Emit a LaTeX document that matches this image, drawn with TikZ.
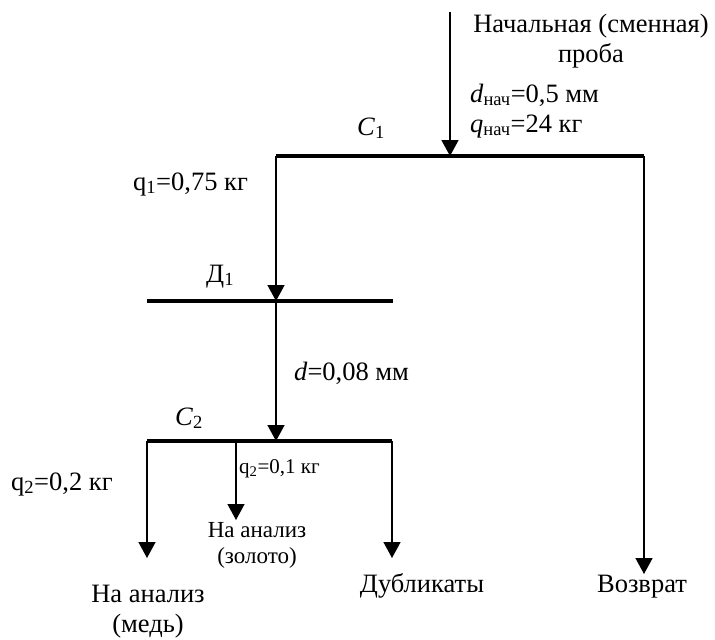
\documentclass[tikz,border=0pt]{standalone}
\usepackage{fontspec}
\setmainfont{Liberation Serif}
\usetikzlibrary{arrows.meta}
\tikzset{
  bar/.style={line width=3.5pt},
  flow/.style={line width=1.5pt,-{Triangle[width=17pt,length=16pt]}},
  big/.style={inner sep=0pt,font=\fontsize{26.5}{30}\selectfont},
  small/.style={inner sep=0pt,font=\fontsize{23}{26}\selectfont},
  tiny/.style={inner sep=0pt,font=\fontsize{21}{24}\selectfont},
}
\begin{document}
\begin{tikzpicture}[x=1pt,y=-1pt]
\useasboundingbox (0,0) rectangle (715,640);
% coordinates
\coordinate (in) at (450,12);
\coordinate (c1L) at (276,156);
\coordinate (c1M) at (450,156);
\coordinate (c1R) at (644,156);
\coordinate (d1L) at (147,301);
\coordinate (d1M) at (276,301);
\coordinate (d1R) at (393,301);
\coordinate (c2L) at (147,441);
\coordinate (c2A) at (236,441);
\coordinate (c2M) at (276,441);
\coordinate (c2R) at (392,441);
\coordinate (e1) at (147,558);
\coordinate (e2) at (236,520);
\coordinate (e3) at (392,558);
\coordinate (e4) at (644,574);
% bars
\draw[bar] (c1L) -- (c1R);
\draw[bar] (d1L) -- (d1R);
\draw[bar] (c2L) -- (c2R);
% flows
\draw[flow] (in) -- (c1M);
\draw[flow] (c1L) -- (d1M);
\draw[flow] (d1M) -- (c2M);
\draw[flow] (c2L) -- (e1);
\draw[flow] (c2A) -- (e2);
\draw[flow] (c2R) -- (e3);
\draw[flow] (c1R) -- (e4);
% labels
\node[big,anchor=base] (init) at (591,32) {\begin{tabular}[t]{@{}c@{}}Начальная (сменная)\\проба\end{tabular}};
\node[big,anchor=base west] (dn) at (470,102) {\textit{d}\textsubscript{нач}=0,5 мм};
\node[big,anchor=base west] (qn) at (470,132) {\textit{q}\textsubscript{нач}=24 кг};
\node[big,anchor=base west] (C1) at (357,135) {\textit{C}\textsubscript{1}};
\node[big,anchor=base west] (q1) at (133,190) {q\textsubscript{1}=0,75 кг};
\node[big,anchor=base west] (D1) at (206,282) {Д\textsubscript{1}};
\node[big,anchor=base west] (d2) at (294,380) {\textit{d}=0,08 мм};
\node[big,anchor=base west] (C2) at (175,425) {\textit{C}\textsubscript{2}};
\node[tiny,anchor=base west] (q21) at (239,473) {q\textsubscript{2}=0,1 кг};
\node[big,anchor=base west] (q22) at (11,490) {q\textsubscript{2}=0,2 кг};
\node[small,anchor=base] (au) at (257,537) {\begin{tabular}[t]{@{}c@{}}На анализ\\(золото)\end{tabular}};
\node[big,anchor=base] (cu) at (148,602) {\begin{tabular}[t]{@{}c@{}}На анализ\\(медь)\end{tabular}};
\node[big,anchor=base] (dup) at (422,592) {Дубликаты};
\node[big,anchor=base] (ret) at (642,592) {Возврат};
\end{tikzpicture}
\end{document}
